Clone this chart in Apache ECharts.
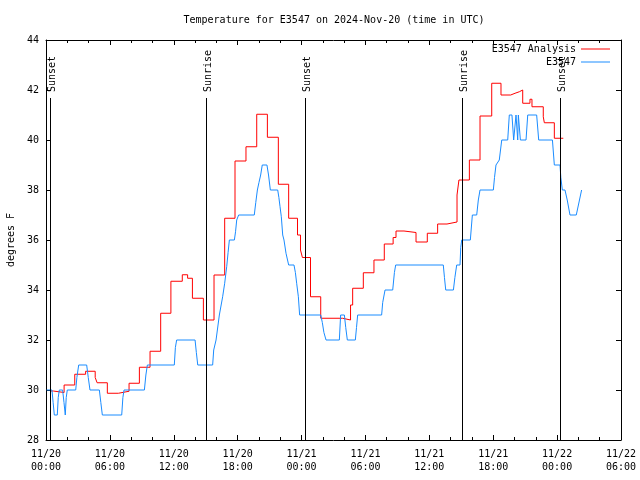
<!DOCTYPE html>
<html><head><meta charset="utf-8">
<script src="https://cdn.jsdelivr.net/npm/echarts@6/dist/echarts.min.js"></script>
<style>html,body{margin:0;padding:0;background:#fff}#c{width:640px;height:480px}</style>
</head><body><div id="c"></div>
<script>
const FONT = '"DejaVu Sans Mono", "Liberation Mono", monospace';
const titleText = 'Temperature for E3547 on 2024-Nov-20 (time in UTC)';
const yAxisTitle = 'degrees F';
const xTickLabels = ['11/20\n00:00','11/20\n06:00','11/20\n12:00','11/20\n18:00','11/21\n00:00','11/21\n06:00','11/21\n12:00','11/21\n18:00','11/22\n00:00','11/22\n06:00'];
const seriesNames = ['E3547 Analysis', 'E3547'];

// hours since 2024-11-20 00:00 UTC
const analysisHours = [0.38,0.69,1.70,2.70,3.72,4.62,4.80,5.76,6.80,7.80,8.77,9.77,10.77,11.73,12.80,13.30,13.75,14.78,15.78,16.78,17.75,18.78,19.79,20.79,21.82,22.79,23.62,23.90,24.08,24.84,25.80,27.86,28.60,28.80,29.80,30.80,31.77,32.60,32.87,33.62,34.75,35.81,36.78,37.66,38.60,38.78,39.76,40.76,41.86,42.73,43.64,44.05,44.45,44.77,45.45,45.64,46.70,46.80,47.74,48.58];
const analysisTemps = [29.96,29.90,30.20,30.63,30.75,30.50,30.29,29.87,29.95,30.27,30.91,31.55,33.07,34.35,34.61,34.47,33.67,32.80,34.60,36.87,39.16,39.73,41.03,40.11,38.23,36.87,36.20,35.60,35.30,33.73,32.87,32.80,33.40,34.07,34.69,35.20,35.84,36.10,36.36,36.30,35.92,36.27,36.64,36.72,37.80,38.40,39.20,40.96,42.27,41.80,41.87,41.93,42.00,41.47,41.63,41.33,40.93,40.69,40.07,40.07];

const obsHours = [0.06,0.56,0.67,0.78,1.06,1.15,1.25,1.56,1.69,1.81,1.90,2.00,2.79,2.90,3.07,3.82,3.97,4.13,5.01,5.15,5.29,7.11,7.22,7.33,9.24,9.38,9.52,12.05,12.15,12.27,14.00,14.12,14.25,15.65,15.75,15.97,16.28,16.59,16.78,16.97,17.10,17.22,17.69,17.80,17.91,18.09,19.56,19.70,19.85,20.00,20.16,20.31,20.75,20.90,21.07,21.76,21.87,21.98,22.10,22.23,22.35,22.54,22.79,23.29,23.42,23.54,23.70,23.82,25.80,25.95,26.10,26.30,27.55,27.67,28.02,28.15,28.30,29.05,29.16,29.27,31.52,31.62,31.84,32.56,32.72,32.84,37.31,37.42,37.54,38.26,38.40,38.57,38.88,38.95,39.04,39.85,40.04,40.45,40.60,40.76,42.01,42.12,42.26,42.57,42.80,43.36,43.51,43.76,43.92,44.05,44.14,44.22,44.30,44.36,44.45,44.55,45.08,45.24,46.08,46.27,47.56,47.74,48.27,48.35,48.49,48.74,48.95,49.21,49.80,50.00,50.30];
const obsTemps = [30,30,29.5,29,29,29.7,30,30,29.5,29,29.7,30,30,30.5,31,31,30.5,30,30,29.5,29,29,29.7,30,30,30.6,31,31,31.7,32,32,31.5,31,31,31.6,32,33,33.73,34.27,34.93,35.5,36,36,36.33,36.8,37,37,37.5,38,38.3,38.6,39,39,38.6,38,38,37.7,37.33,36.93,36.2,36,35.47,35,35,34.7,34.27,33.73,33,33,32.7,32.3,32,32,33,33,32.5,32,32,32.5,33,33,33.5,34,34,34.7,35,35,34.5,34,34,34.5,35,35,35.7,36,36,37,37,37.6,38,38,38.5,39,39.2,40,40,41,41,40,40,41,41,40,41,41,40,40,41,41,40,40,39,39,38.5,38,38,37.6,37,37,37.4,38];

const sunHours = [0.38, 15.02, 24.33, 39.07, 48.28];
const sunLabels = ['Sunset','Sunrise','Sunset','Sunrise','Sunset'];

const X_MIN = 0, X_MAX = 54, X_STEP = 6;
const Y_MIN = 28, Y_MAX = 44, Y_STEP = 2;
const SUN_LINE_TOP = 41.68;

const zip = (a, b) => a.map((v, i) => [v, b[i]]);

const chart = echarts.init(document.getElementById('c'), null, {renderer: 'canvas'});

const xAxisBase = {
  type: 'value', min: X_MIN, max: X_MAX, interval: X_STEP,
  axisLine: {show: true, onZero: false, lineStyle: {color: '#000', width: 1}},
  axisTick: {show: true, inside: true, length: 5, lineStyle: {color: '#000'}},
  minorTick: {show: true, splitNumber: 3, length: 3, lineStyle: {color: '#000'}},
  splitLine: {show: false}, minorSplitLine: {show: false}
};
const yAxisBase = {
  type: 'value', min: Y_MIN, max: Y_MAX, interval: Y_STEP,
  axisLine: {show: true, onZero: false, lineStyle: {color: '#000', width: 1}},
  axisTick: {show: true, inside: true, length: 5, lineStyle: {color: '#000'}},
  splitLine: {show: false}
};

const option = {
  animation: false,
  backgroundColor: '#fff',
  grid: {left: 46, right: 19, top: 40, bottom: 40, containLabel: false},
  legend: {
    orient: 'vertical', right: 30, top: 42.5, align: 'right', padding: 0, itemGap: 0,
    icon: 'rect', itemWidth: 29, itemHeight: 1,
    textStyle: {fontFamily: FONT, fontSize: 10, color: '#000', lineHeight: 13},
    data: seriesNames
  },
  xAxis: [
    Object.assign({}, xAxisBase, {position: 'bottom',
      axisLabel: {show: true, fontFamily: FONT, fontSize: 10, color: '#000', lineHeight: 13, margin: 8,
        formatter: v => xTickLabels[Math.round((v - X_MIN) / X_STEP)] || ''}}),
    Object.assign({}, xAxisBase, {position: 'top', axisLabel: {show: false}})
  ],
  yAxis: [
    Object.assign({}, yAxisBase, {position: 'left',
      axisLabel: {show: true, fontFamily: FONT, fontSize: 10, color: '#000', margin: 7}}),
    Object.assign({}, yAxisBase, {position: 'right', axisLabel: {show: false}})
  ],
  series: [
    {
      name: 'sun', type: 'line', data: [], z: 1, silent: true,
      markLine: {
        silent: true, symbol: ['none', 'none'], animation: false,
        lineStyle: {color: '#000', width: 1, type: 'solid'},
        label: {show: false},
        data: sunHours.map(t => [{coord: [t, SUN_LINE_TOP]}, {coord: [t, Y_MIN]}])
      }
    },
    {
      name: seriesNames[0], type: 'line', step: 'end', z: 3,
      data: zip(analysisHours, analysisTemps),
      symbol: 'none', color: '#ff0000',
      lineStyle: {color: '#ff0000', width: 1}
    },
    {
      name: seriesNames[1], type: 'line', z: 3,
      data: zip(obsHours, obsTemps),
      symbol: 'none', color: '#1a8cff',
      lineStyle: {color: '#1a8cff', width: 1}
    }
  ]
};
chart.setOption(option);

const font = '10px ' + FONT;
const graphics = [
  {type: 'text', x: 334, y: 20, style: {text: titleText, font: font, fill: '#000', textAlign: 'center', textVerticalAlign: 'middle'}},
  {type: 'text', x: 11, y: 240, rotation: Math.PI / 2, style: {text: yAxisTitle, font: font, fill: '#000', textAlign: 'center', textVerticalAlign: 'middle'}}
];
sunHours.forEach((t, i) => {
  const p = chart.convertToPixel({xAxisIndex: 0, yAxisIndex: 0}, [t, SUN_LINE_TOP]);
  graphics.push({type: 'text', x: p[0] + 2, y: p[1] - 6, rotation: Math.PI / 2, z: 10,
    style: {text: sunLabels[i], font: font, fill: '#000', textAlign: 'left', textVerticalAlign: 'middle'}});
});
chart.setOption({graphic: graphics});
</script>
</body></html>
